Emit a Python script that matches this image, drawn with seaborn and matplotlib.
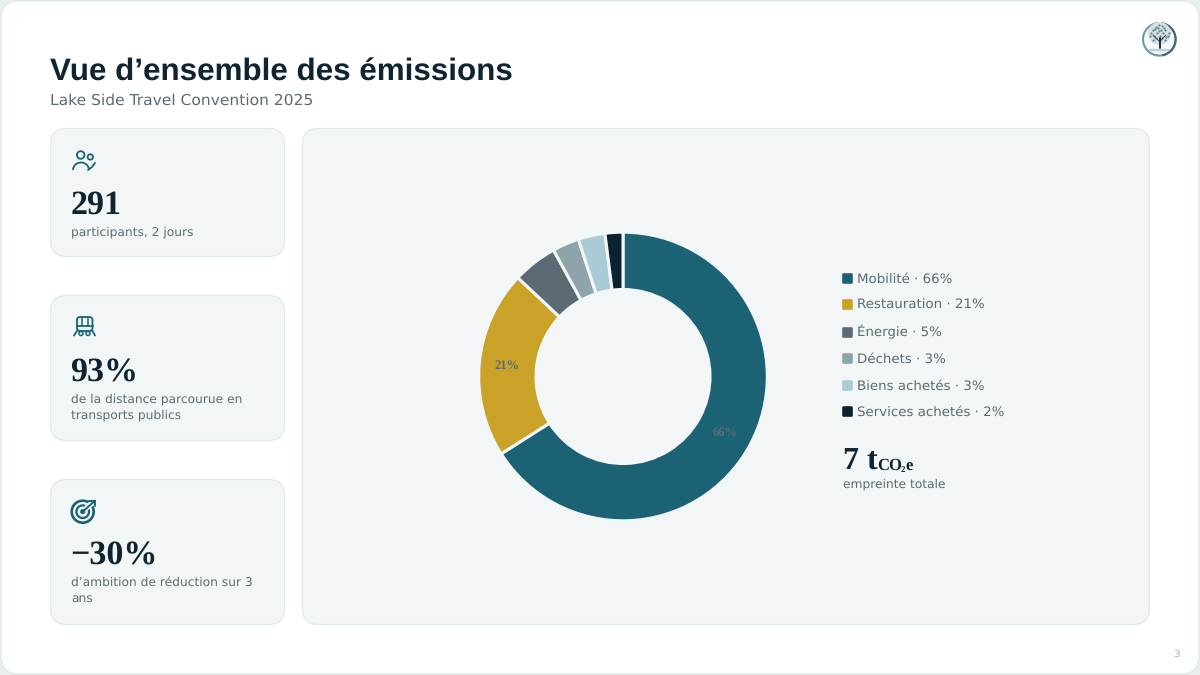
import seaborn as sns
import matplotlib
matplotlib.use('Agg')

import matplotlib.pyplot as plt
from matplotlib.lines import Line2D
from matplotlib.markers import MarkerStyle
from matplotlib.patches import Arc, Circle, FancyBboxPatch

categories = ['Mobilité', 'Restauration', 'Énergie', 'Déchets', 'Biens achetés', 'Services achetés']
shares = [66, 21, 5, 3, 3, 2]
palette = ['#1A6274', '#C9A227', '#5C6B73', '#8FA3AB', '#A8CBD6', '#0B2230']

kpi_values = ['291', '93%', '−30%']
kpi_captions = [['participants, 2 jours'],
                ['de la distance parcourue en', 'transports publics'],
                ['d’ambition de réduction sur 3', 'ans']]

INK = '#0F2430'
GREY = '#5C6B73'
TEAL = '#1A6274'
PANEL = '#F2F6F7'
EDGE = '#E0EAEB'

sns.set_theme(style='white')
plt.rcParams['font.family'] = ['DejaVu Sans']
plt.rcParams['text.hinting'] = 'none'

fig = plt.figure(figsize=(12, 6.75), dpi=100, facecolor='#E9EFF0')

# fond en coordonnées pixels
bg = fig.add_axes([0, 0, 1, 1])
bg.set_xlim(0, 1200)
bg.set_ylim(675, 0)
bg.axis('off')


def card(x0, y0, x1, y1, face=PANEL, edge=EDGE, r=16):
    bg.add_patch(FancyBboxPatch((x0 + r, y0 + r), x1 - x0 - 2 * r, y1 - y0 - 2 * r,
                                boxstyle=f'round,pad={r},rounding_size={r}',
                                fc=face, ec=edge, lw=0.9))


card(1, 1, 1199, 674, face='white', edge='#DDE8E9', r=18)
card(302.5, 128.5, 1149.5, 624.5)

# titre
bg.text(50, 81, 'Vue d’ensemble des émissions', family='Liberation Sans', weight='bold',
        fontsize=22.6, color=INK, va='baseline')
bg.text(50, 105, 'Lake Side Travel Convention 2025', fontsize=11.15, color=GREY, va='baseline')

# cartes KPI
card_tops = [128.5, 295.5, 479.5]
card_bottoms = [256.5, 440.5, 624.5]
value_y = [214, 382, 565]
caption_y = [235, 402.5, 585.5]
for i in range(3):
    card(50.5, card_tops[i], 284.5, card_bottoms[i])
    bg.text(70.5, value_y[i], kpi_values[i], family='Liberation Serif', weight='bold',
            fontsize=24.5, color=INK, va='baseline')
    for j, line in enumerate(kpi_captions[i]):
        bg.text(71, caption_y[i] + j * 16, line, fontsize=8.8, color=GREY, va='baseline')

# icône participants
bg.add_patch(Circle((80.7, 155), 3.8, fc='none', ec=TEAL, lw=1.3))
bg.add_patch(Circle((90.3, 157), 2.7, fc='none', ec=TEAL, lw=1.3))
bg.add_patch(Arc((81, 170), 16, 15, theta1=180, theta2=360, ec=TEAL, lw=1.3))
bg.plot([88, 92, 95], [170, 167, 163], color=TEAL, lw=1.3)

# icône train
bg.add_patch(FancyBboxPatch((77, 317), 15.5, 14, boxstyle='round,pad=0,rounding_size=3',
                            fc='none', ec=TEAL, lw=1.3))
bg.plot([77, 92.5], [326, 326], color=TEAL, lw=1.3)
bg.plot([82, 82], [317, 326], color=TEAL, lw=1.1)
bg.plot([87.5, 87.5], [317, 326], color=TEAL, lw=1.1)
bg.plot([77, 74], [331, 335.5], color=TEAL, lw=1.3)
bg.plot([92.5, 95], [331, 335.5], color=TEAL, lw=1.3)
bg.add_patch(Circle((81, 333.5), 2, fc='none', ec=TEAL, lw=1.1))
bg.add_patch(Circle((88, 333.5), 2, fc='none', ec=TEAL, lw=1.1))

# icône cible
bg.add_patch(Circle((82.7, 511.7), 11, fc='none', ec=TEAL, lw=1.9))
bg.add_patch(Circle((82.7, 511.7), 6.3, fc='none', ec=TEAL, lw=1.6))
bg.add_patch(Circle((82.7, 511.7), 2.2, fc=TEAL, ec=TEAL, lw=0.5))
bg.plot([87, 97], [507.5, 498.5], color=PANEL, lw=4)
bg.plot([84, 95], [510.5, 500.7], color=TEAL, lw=1.4)
bg.plot([89.3, 95, 95], [500.7, 500.7, 506], color=TEAL, lw=1.4)

# logo
bg.add_patch(Circle((1159.3, 39.3), 16.3, fc='#F6F9F9', ec='#6E9C9A', lw=1.5))
bg.add_patch(Arc((1159.3, 39.3), 32.6, 32.6, theta1=280, theta2=80, ec='#4A6570', lw=1.5))
bg.add_patch(Circle((1159.5, 33.5), 11.5, fc='#D6E0E2', ec='none'))
canopy_x = [1150, 1153, 1156, 1159, 1162, 1165, 1168, 1151, 1154, 1157, 1160, 1163, 1166, 1169,
            1153, 1156, 1159, 1162, 1165, 1155, 1160, 1164, 1158, 1161]
canopy_y = [36, 30, 27, 31, 26, 30, 36, 33, 36, 33, 36, 33, 37, 33, 40, 38, 25, 38, 40, 29, 40, 28, 28, 30]
bg.scatter(canopy_x, canopy_y, s=2.5, color='#5C8690', linewidths=0)
bg.plot([1159.5, 1159.5], [38, 48], color='#1F343C', lw=1.4)
bg.plot([1153, 1159.5, 1166], [35, 41.5, 35], color='#1F343C', lw=0.6)
bg.plot([1150, 1169], [49.5, 49.5], color='#B5D0D8', lw=1.6)

# numéro de page
bg.text(1180, 657, '3', fontsize=7.5, color='#A9B5B8', ha='right', va='baseline')

# donut
cx, cy, radius, half = 623, 376.5, 144.3, 150
donut = fig.add_axes([(cx - half) / 1200, 1 - (cy + half) / 675, 2 * half / 1200, 2 * half / 675])
wedges, _, autotexts = donut.pie(
    shares, colors=sns.color_palette(palette), startangle=90, counterclock=False, radius=1,
    wedgeprops={'width': 0.397, 'edgecolor': PANEL, 'linewidth': 2.2},
    autopct=lambda p: f'{p:.0f}%' if p >= 10 else '', pctdistance=0.808,
    textprops={'family': 'Liberation Serif', 'weight': 'bold', 'fontsize': 9, 'color': GREY})
donut.set_xlim(-half / radius, half / radius)
donut.set_ylim(-half / radius, half / radius)
donut.patch.set_alpha(0)

# légende
handles = [Line2D([], [], linestyle='none', marker=MarkerStyle('s', joinstyle='round'),
                  markersize=5.2, markeredgewidth=1.9, color=c, markeredgecolor=c) for c in palette]
labels = [f'{name} · {val}%' for name, val in zip(categories, shares)]
fig.legend(handles, labels, loc='upper left', bbox_to_anchor=(836.3 / 1200, 1 - 269.8 / 675),
           frameon=False, prop={'size': 9.6}, labelcolor=GREY, handletextpad=0.15,
           handlelength=1.2, labelspacing=1.03, borderpad=0.2, borderaxespad=0)

# total
bg.text(843, 470, '7 t', family='Liberation Serif', weight='bold', fontsize=23, color=INK, va='baseline')
bg.text(877, 470, 'CO', family='Liberation Serif', weight='bold', fontsize=12, color=INK, va='baseline')
bg.text(901, 472, '2', family='Liberation Serif', weight='bold', fontsize=6.5, color=INK, va='baseline')
bg.text(905, 470, 'e', family='Liberation Serif', weight='bold', fontsize=12, color=INK, va='baseline')
bg.text(843, 488, 'empreinte totale', fontsize=8.8, color=GREY, va='baseline')

fig.savefig('out.png', dpi=100, facecolor=fig.get_facecolor())
